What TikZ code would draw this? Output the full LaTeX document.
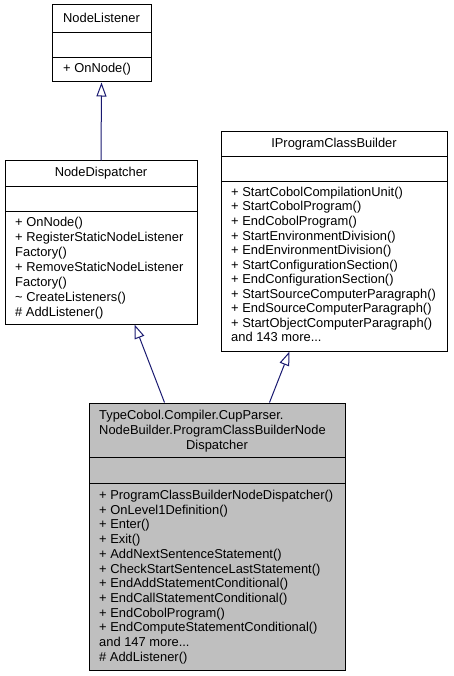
\documentclass[tikz,border=0pt]{standalone}
\usepackage{fontspec}
\setmainfont{Liberation Sans}
\usetikzlibrary{arrows.meta}
\definecolor{navyline}{HTML}{191970}
\definecolor{boxgray}{HTML}{BFBFBF}
\newcommand{\etcdots}{...}

\begin{document}
\begin{tikzpicture}[x=1pt, y=-1pt, font=\fontsize{12.9}{14.7}\selectfont,
  classbox/.style={draw=black, line width=1pt, fill=white, inner sep=0pt},
  inherit/.style={draw=navyline, line width=1pt, -{Triangle[fill=white, length=14pt, width=10pt]}},
  txt/.style={anchor=base west, inner sep=0pt}]
% Canvas
\useasboundingbox (0,0) rectangle (453,676);
% NodeListener
\node[classbox, minimum width=99pt, minimum height=77pt] (nl) at (101.5,43.5) {};
\draw (52,32) -- (151,32) (52,57) -- (151,57);
\node[txt, anchor=base] (nl-name) at (101.5,22.5) {NodeListener};
\node[txt] (nl-op) at (63,73) {+ OnNode()};
% NodeDispatcher
\node[classbox, minimum width=192pt, minimum height=163pt] (nd) at (101,242.5) {};
\draw (5,186) -- (197,186) (5,211) -- (197,211);
\node[txt, anchor=base] (nd-name) at (101,176.5) {NodeDispatcher};
\foreach \t [count=\i] in {+ OnNode(), + RegisterStaticNodeListener, Factory(),
    + RemoveStaticNodeListener, Factory(), \textasciitilde\ CreateListeners(), \# AddListener()} {
  \node[txt] (nd-op\i) at (15,{211.5+15*\i}) {\t};
}
% IProgramClassBuilder
\node[classbox, minimum width=226pt, minimum height=219pt] (ipcb) at (334,241.5) {};
\draw (221,156) -- (447,156) (221,181) -- (447,181);
\node[txt, anchor=base] (ipcb-name) at (334,148) {IProgramClassBuilder};
\foreach \t [count=\i] in {+ StartCobolCompilationUnit(), + StartCobolProgram(), + EndCobolProgram(),
    + StartEnvironmentDivision(), + EndEnvironmentDivision(), + StartConfigurationSection(),
    + EndConfigurationSection(), + StartSourceComputerParagraph(), + EndSourceComputerParagraph(),
    + StartObjectComputerParagraph(), and 143 more\etcdots} {
  \node[txt] (ipcb-op\i) at (231,{182+14.5*\i}) {\t};
}
% ProgramClassBuilderNodeDispatcher
\node[classbox, fill=boxgray, minimum width=256pt, minimum height=267pt] (pcb) at (217,536.5) {};
\draw (89,457) -- (345,457) (89,483) -- (345,483);
\node[txt] (pcb-name1) at (99,419.5) {TypeCobol.Compiler.CupParser.};
\node[txt] (pcb-name2) at (99,434.5) {NodeBuilder.ProgramClassBuilderNode};
\node[txt, anchor=base] (pcb-name3) at (217,449) {Dispatcher};
\foreach \t [count=\i] in {+ ProgramClassBuilderNodeDispatcher(), + OnLevel1Definition(), + Enter(),
    + Exit(), + AddNextSentenceStatement(), + CheckStartSentenceLastStatement(),
    + EndAddStatementConditional(), + EndCallStatementConditional(), + EndCobolProgram(),
    + EndComputeStatementConditional(), and 147 more\etcdots, \# AddListener()} {
  \node[txt] (pcb-op\i) at (99,{484.8+14.7*\i}) {\t};
}
% Inheritance
\draw[inherit] (nd.north) -- (nl.south);
\draw[inherit] ([xshift=76pt]pcb.north west) -- ([xshift=130pt]nd.south west);
\draw[inherit] ([xshift=181pt]pcb.north west) -- ([xshift=69pt]ipcb.south west);
\end{tikzpicture}
\end{document}
